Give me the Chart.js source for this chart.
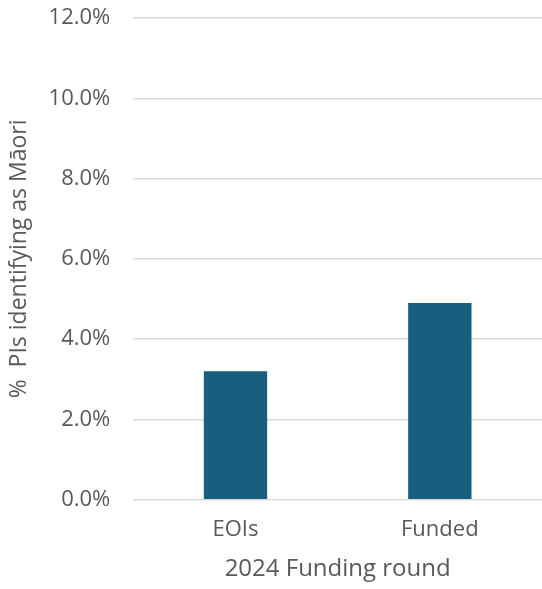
<!DOCTYPE html>
<html>
<head>
<meta charset="utf-8">
<script src="https://cdn.jsdelivr.net/npm/chart.js@4"></script>
<style>
  html, body { margin: 0; padding: 0; background: #fff; }
  #wrap { width: 542px; height: 589px; }
</style>
</head>
<body>
<div id="wrap"><canvas id="chart"></canvas></div>
<script>
// data
const categories = ['EOIs', 'Funded'];
const maoriShare = [3.2, 4.9];   // % of PIs identifying as Māori

const ctx = document.getElementById('chart');
const font = '"Open Sans", "Noto Sans", sans-serif';

new Chart(ctx, {
    type: 'bar',
    data: {
        labels: categories,
        datasets: [{
            data: maoriShare,
            backgroundColor: '#175e7f',
            barPercentage: 0.62,
            categoryPercentage: 0.5
        }]
    },
    options: {
        responsive: true,
        maintainAspectRatio: false,
        animation: false,
        layout: { padding: { top: 18, right: 0, bottom: 5, left: 4 } },
        plugins: {
            legend: { display: false },
            tooltip: { enabled: false }
        },
        scales: {
            x: {
                grid: { display: false, tickLength: 17 },
                border: { display: false },
                ticks: { color: '#595959', font: { family: font, size: 22 }, padding: 0 },
                title: {
                    display: true,
                    text: '2024 Funding round',
                    color: '#595959',
                    font: { family: font, size: 24 },
                    padding: { top: 12, bottom: 0 }
                }
            },
            y: {
                min: 0,
                max: 12,
                ticks: {
                    stepSize: 2,
                    color: '#595959',
                    font: { family: font, size: 22 },
                    padding: 0,
                    callback: v => v.toFixed(1) + '%'
                },
                grid: { color: '#d9d9d9', lineWidth: 1.5, tickLength: 23, tickColor: 'rgba(0,0,0,0)' },
                border: { display: false },
                title: {
                    display: true,
                    text: '%  PIs identifying as Māori',
                    color: '#595959',
                    font: { family: font, size: 23 },
                    padding: { top: 2, bottom: 15 }
                }
            }
        }
    }
});
</script>
</body>
</html>
